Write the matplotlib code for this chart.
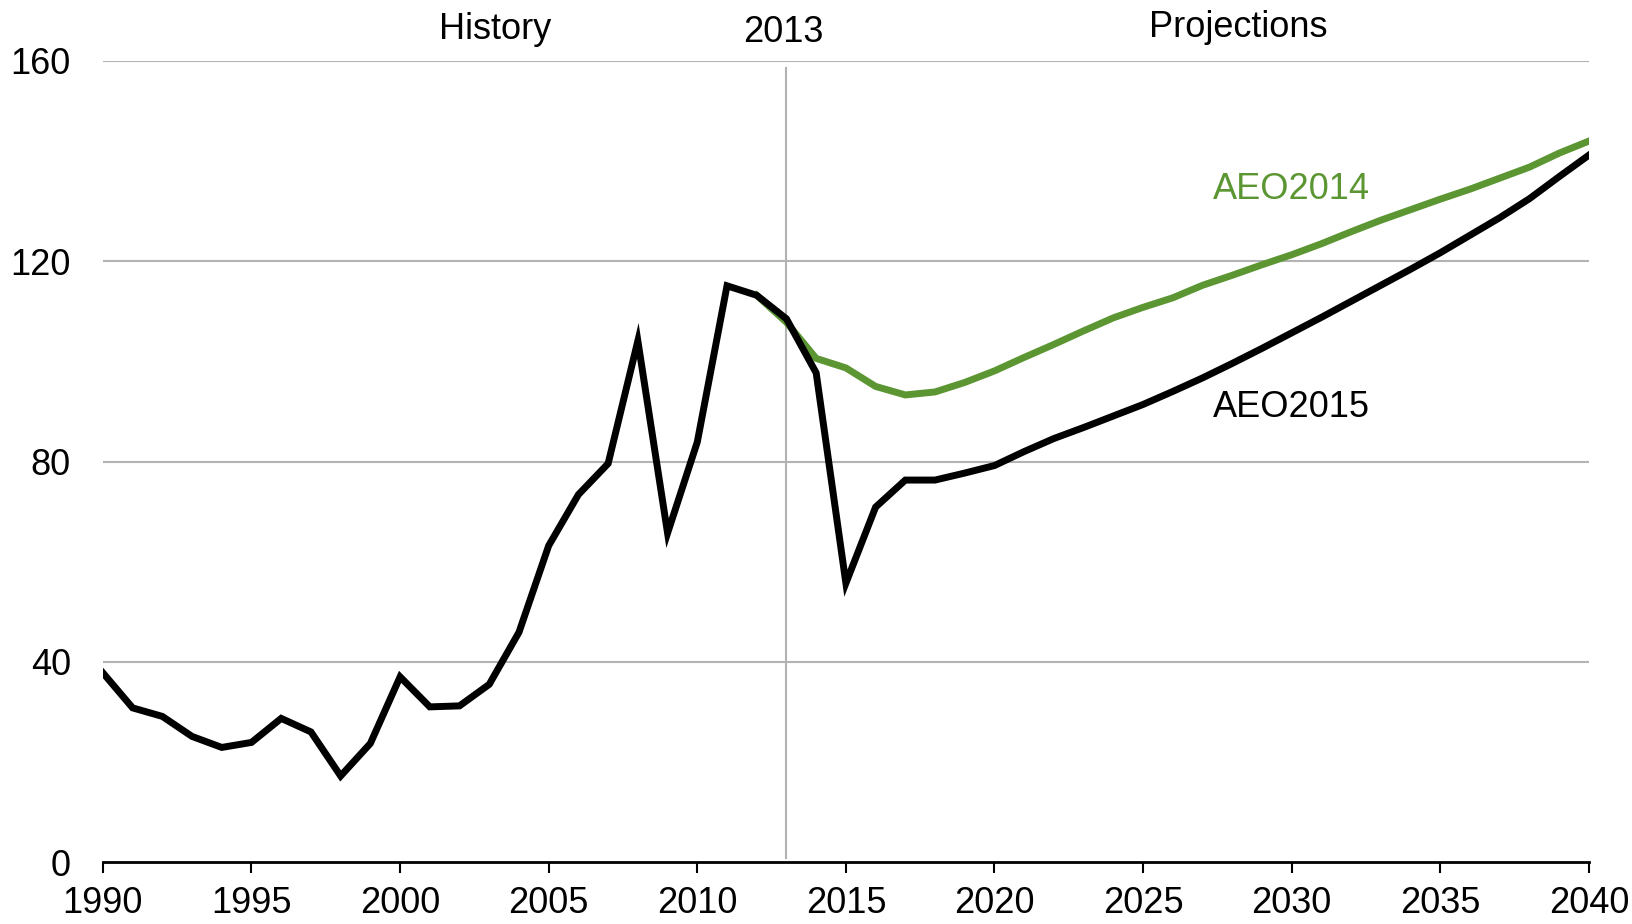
import numpy as np
import matplotlib.pyplot as plt

plt.rcParams['font.family'] = ['Liberation Sans', 'DejaVu Sans']

# history + AEO2015 (black)
years_15 = list(range(1990, 2041))
aeo2015 = [37.8, 30.8, 29.1, 25.1, 22.9, 23.9, 28.7, 26.0, 17.2, 23.7,
           37.0, 31.0, 31.2, 35.5, 45.9, 63.2, 73.4, 79.6, 104.1, 65.7,
           83.9, 115.1, 113.2, 108.5, 97.7, 55.7, 70.9, 76.3, 76.3, 77.7,
           79.2, 82.0, 84.6, 86.8, 89.1, 91.4, 94.0, 96.7, 99.6, 102.6,
           105.7, 108.8, 112.0, 115.2, 118.4, 121.7, 125.2, 128.7, 132.5, 136.9,
           141.2]

# AEO2014 (green), branches off in 2012
years_14 = list(range(2012, 2041))
aeo2014 = [113.2, 107.8, 100.6, 98.7, 95.0, 93.3, 93.9, 95.8, 98.1, 100.8,
           103.4, 106.1, 108.7, 110.8, 112.7, 115.2, 117.2, 119.3, 121.3, 123.5,
           125.9, 128.2, 130.3, 132.4, 134.4, 136.6, 138.8, 141.6, 144.0]

xticks = list(range(1990, 2041, 5))
yticks = [0, 40, 80, 120, 160]

fig = plt.figure(figsize=(16.33, 9.24), dpi=100)
ax = fig.add_axes([0.063, 0.067, 0.910, 0.867])

grid_c = '#b3b3b3'
for y in yticks[1:]:
    ax.axhline(y, color=grid_c, lw=1.5, zorder=1)
ax.plot([2013, 2013], [0.8, 158.6], color=grid_c, lw=1.5, zorder=1)

ax.plot(years_14, aeo2014, color='#5b9632', lw=5, zorder=2, solid_joinstyle='miter')
ax.plot(years_15, aeo2015, color='black', lw=5, zorder=3, solid_joinstyle='miter')

ax.set_xlim(1990, 2040)
ax.set_ylim(0, 160)
ax.set_xticks(xticks)
ax.set_yticks(yticks)
fs = 26
ax.tick_params(axis='x', direction='out', length=8, width=1.5, labelsize=fs, pad=9)
ax.tick_params(axis='y', length=0, labelsize=fs, pad=23)
for s in ['top', 'right', 'left']:
    ax.spines[s].set_visible(False)
ax.spines['bottom'].set_linewidth(2)
ax.spines['bottom'].set_zorder(4)

ax.text(2003.2, 166.3, 'History', ha='center', va='center', fontsize=fs)
ax.text(2012.9, 165.6, '2013', ha='center', va='center', fontsize=fs)
ax.text(2028.2, 166.7, 'Projections', ha='center', va='center', fontsize=fs)
ax.text(2030, 134.4, 'AEO2014', color='#5b9632', ha='center', va='center', fontsize=fs)
ax.text(2030, 90.8, 'AEO2015', color='black', ha='center', va='center', fontsize=fs)

fig.savefig('out.png', dpi=100)
